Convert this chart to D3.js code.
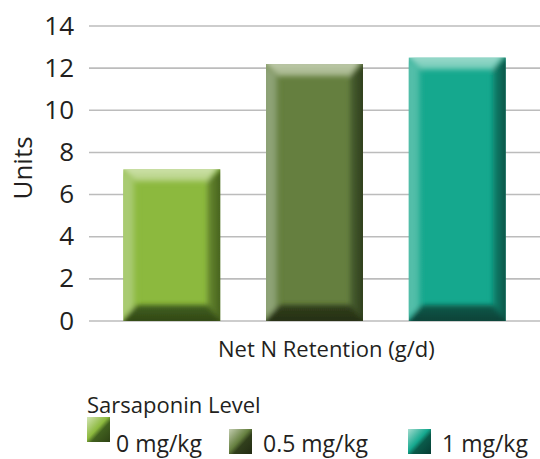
<!DOCTYPE html>
<html><head><meta charset="utf-8">
<script src="https://cdn.jsdelivr.net/npm/d3@7"></script>
<style>body{margin:0;background:#fff}svg{display:block}text{font-family:"Open Sans",sans-serif;fill:#231f20}</style>
</head><body>
<script>
const categories = ["0 mg/kg", "0.5 mg/kg", "1 mg/kg"];
const values = [7.2, 12.2, 12.5];
const yTicks = [0, 2, 4, 6, 8, 10, 12, 14];
const xLabel = "Net N Retention (g/d)";
const yLabel = "Units";
const legendTitle = "Sarsaponin Level";
const palette = [
  {main:"#8cb93e", top1:"#d3e5b4", top2:"#b3d07f", left:"#a9cb72", right1:"#6a8c30", right2:"#3c5619", bot1:"#41601f", bot2:"#2e4214"},
  {main:"#657f3f", top1:"#c3cdb0", top2:"#a4b58a", left:"#8ea376", right1:"#4a6130", right2:"#283518", bot1:"#313f1c", bot2:"#222b13"},
  {main:"#15a88e", top1:"#a5ddd0", top2:"#6fcab6", left:"#52bea9", right1:"#0e8670", right2:"#05463a", bot1:"#0a5a4a", bot2:"#063c33"}
];

const W = 540, H = 459;
const svg = d3.select("body").append("svg").attr("width", W).attr("height", H);
const defs = svg.append("defs");
defs.append("filter").attr("id","soft").attr("x","-10%").attr("y","-10%").attr("width","120%").attr("height","120%")
  .append("feGaussianBlur").attr("stdDeviation", 2.8);

const y = d3.scaleLinear().domain([0, 14]).range([321, 26]);
const x = d3.scaleBand().domain(categories).range([89, 540]).paddingInner(0.32).paddingOuter(0.24);

// gridlines
svg.append("g").selectAll("line").data(yTicks).join("line")
  .attr("x1", 89).attr("x2", 540)
  .attr("y1", d => y(d)).attr("y2", d => y(d))
  .attr("stroke", "#bcbcbc").attr("stroke-width", 1.6);

// y tick labels
svg.append("g").selectAll("text").data(yTicks).join("text")
  .attr("x", 74).attr("y", d => y(d)).attr("dy", "0.33em")
  .attr("text-anchor", "end").attr("font-size", 26).text(d => d);

svg.append("text").attr("transform", "translate(32,168) rotate(-90)")
  .attr("text-anchor", "middle").attr("font-size", 26).text(yLabel);

function grad(id, x1, y1, x2, y2, stops) {
  const g = defs.append("linearGradient").attr("id", id)
    .attr("x1", x1).attr("y1", y1).attr("x2", x2).attr("y2", y2);
  stops.forEach(([o, c]) => g.append("stop").attr("offset", o).attr("stop-color", c));
  return `url(#${id})`;
}

categories.forEach((c, i) => {
  const p = palette[i];
  const x0 = x(c), x1 = x0 + x.bandwidth();
  const y0 = y(values[i]), y1 = y(0);
  const b = 13, bt = 12, bb = 16;
  defs.append("clipPath").attr("id", "clip" + i).append("rect")
    .attr("x", x0).attr("y", y0).attr("width", x1 - x0).attr("height", y1 - y0);
  const g = svg.append("g").attr("clip-path", `url(#clip${i})`);
  g.append("rect").attr("x", x0).attr("y", y0).attr("width", x1 - x0).attr("height", y1 - y0).attr("fill", p.main);
  const bands = g.append("g").attr("filter", "url(#soft)");
  const gl = grad("gl"+i, "0","0","1","0", [[0, p.left],[0.7, p.left],[1, p.main]]);
  const gr = grad("gr"+i, "0","0","1","0", [[0, p.right1],[1, p.right2]]);
  const gt = grad("gt"+i, "0","0","0","1", [[0, p.top1],[1, p.top2]]);
  const gb = grad("gb"+i, "0","0","0","1", [[0, p.bot1],[1, p.bot2]]);
  const poly = pts => pts.map(q => q.join(",")).join(" ");
  bands.append("polygon").attr("points", poly([[x0-4,y0],[x0+b,y0+bt],[x0+b,y1-bb],[x0-4,y1]])).attr("fill", gl);
  bands.append("polygon").attr("points", poly([[x1+4,y0-4],[x1-b,y0+bt],[x1-b,y1-bb],[x1+4,y1+4]])).attr("fill", gr);
  bands.append("polygon").attr("points", poly([[x0-4,y0-4],[x1-2,y0-4],[x1-b,y0+bt],[x0+b,y0+bt]])).attr("fill", gt);
  bands.append("polygon").attr("points", poly([[x0-4,y1+4],[x1+4,y1+4],[x1-b,y1-bb],[x0+b,y1-bb]])).attr("fill", gb);
  bands.append("polygon").attr("points", poly([[x1+4,y0-4],[x1-b,y0+bt],[x1-2,y0-4]])).attr("fill", p.main);
});

svg.append("text").attr("x", 218).attr("y", 357).attr("font-size", 22).text(xLabel);

svg.append("text").attr("x", 87).attr("y", 413).attr("font-size", 22).text(legendTitle);

const legX = [87, 229, 408];
const legY = [417, 429, 429];
const legTextX = [116, 263, 442];
categories.forEach((c, i) => {
  const p = palette[i];
  const gs = grad("sw"+i, "0","0","1","1", [[0, p.top1],[0.45, p.main],[0.6, p.bot1],[1, p.bot2]]);
  svg.append("rect").attr("x", legX[i]).attr("y", legY[i]).attr("width", 23).attr("height", 25).attr("fill", gs);
  svg.append("text").attr("x", legTextX[i]).attr("y", 452).attr("font-size", 23).text(c);
});
</script>
</body></html>
